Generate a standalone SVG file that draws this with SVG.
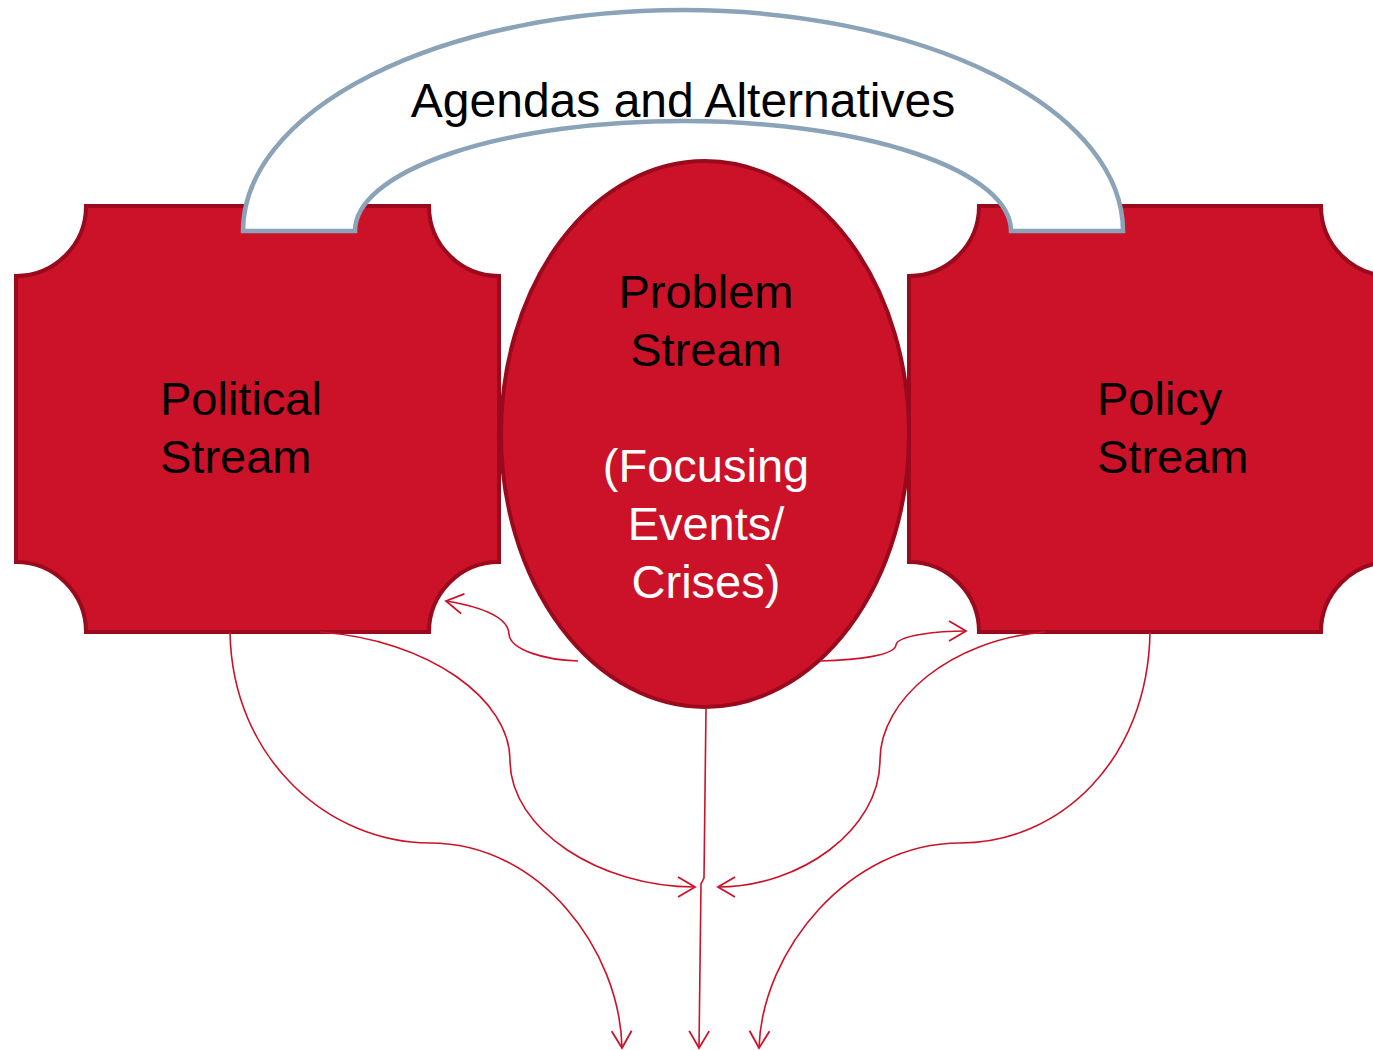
<svg xmlns="http://www.w3.org/2000/svg" width="1373" height="1050" viewBox="0 0 1373 1050">
<style>
.shape{fill:#CC1228;stroke:#9A0A1C;stroke-width:4}
.arch{fill:#FFFFFF;stroke:#8AA3B9;stroke-width:4.5;stroke-linejoin:miter}
.t{font-family:"Liberation Sans",Arial,sans-serif;font-size:47px}
.blk{fill:#000000}
.wht{fill:#FFFFFF}
.con{fill:none;stroke:#CC1228;stroke-width:1.6}
</style>
<defs>
<marker id="ah" markerUnits="userSpaceOnUse" markerWidth="24" markerHeight="26" viewBox="-2 -2 24 26" refX="18" refY="11" orient="auto">
<path d="M1,1 L18,11 L1,21" fill="none" stroke="#CC1228" stroke-width="1.8"/>
</marker>
</defs>
<rect width="1373" height="1050" fill="#FFFFFF"/>
<g id="political-stream">
<path class="shape" d="M86,206 L429,206 A70,70 0 0 0 499,276 L499,562 A70,70 0 0 0 429,632 L86,632 A70,70 0 0 0 16,562 L16,276 A70,70 0 0 0 86,206 Z"/>
</g>
<g id="policy-stream">
<path class="shape" d="M979,206 L1321,206 A70,70 0 0 0 1391,276 L1391,562 A70,70 0 0 0 1321,632 L979,632 A70,70 0 0 0 909,562 L909,276 A70,70 0 0 0 979,206 Z"/>
</g>
<g id="agendas-arch">
<path class="arch" d="M243,231 A440,221 0 0 1 1123,231 L1011,231 A328,110 0 0 0 355,231 Z"/>
<text class="t blk" x="683" y="117" text-anchor="middle" style="font-size:48px">Agendas and Alternatives</text>
</g>
<g id="problem-stream">
<ellipse class="shape" cx="705" cy="434" rx="204" ry="273"/>
</g>
<g id="labels">
<text class="t blk" x="160" y="415">Political</text>
<text class="t blk" x="160" y="473">Stream</text>
<text class="t blk" x="1097" y="415">Policy</text>
<text class="t blk" x="1097" y="473">Stream</text>
<text class="t blk" x="706" y="308" text-anchor="middle">Problem</text>
<text class="t blk" x="706" y="366" text-anchor="middle">Stream</text>
<text class="t wht" x="706" y="482" text-anchor="middle">(Focusing</text>
<text class="t wht" x="706" y="540" text-anchor="middle">Events/</text>
<text class="t wht" x="706" y="598" text-anchor="middle">Crises)</text>
</g>
<g id="connectors">
<path class="con" marker-end="url(#ah)" d="M230,632 C232,760 330,843 430,843 C540,843 620,950 622,1048"/>
<path class="con" marker-end="url(#ah)" d="M320,632 C430,640 510,700 510,760 C510,830 600,887 695,887"/>
<path class="con" marker-end="url(#ah)" d="M706,708 L704,878 L701,884 L699,1048"/>
<path class="con" marker-end="url(#ah)" d="M1045,632 C950,640 880,700 880,760 C880,830 800,887 718,887"/>
<path class="con" marker-end="url(#ah)" d="M1150,632 C1148,760 1060,843 960,843 C850,843 762,950 759,1048"/>
<path class="con" marker-end="url(#ah)" d="M578,661 C545,660 510,650 509,634 C508,614 470,605 446,601"/>
<path class="con" marker-end="url(#ah)" d="M820,661 C860,660 895,655 896,645 C897,635 940,631 966,631"/>
</g>
</svg>
